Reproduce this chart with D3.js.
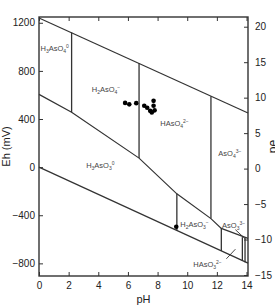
<!DOCTYPE html>
<html lang="en">
<head>
  <meta charset="UTF-8">
  <title>Eh-pH arsenic</title>
  <script src="https://d3js.org/d3.v7.min.js"></script>
  <style>
    body { margin: 0; background: #fff; }
    svg { display: block; font-family: "Liberation Sans", Arial, sans-serif; }
  </style>
</head>
<body>
<script>
  // axis ticks
  const phTicks = [0, 2, 4, 6, 8, 10, 12, 14];
  const ehTicks = [-800, -400, 0, 400, 800, 1200];
  const peTicks = [-15, -10, -5, 0, 5, 10, 15, 20];

  // stability boundaries, read as [pH, Eh mV]
  const upperWater = [[0, 1240], [14.1, 450]];
  const lowerWater = [[0, 0], [14.1, -798]];
  const asRedox = [[0, 605], [2.2, 457], [6.75, 75], [9.3, -222], [11.6, -428], [12.3, -509], [14.1, -592]];
  // vertical dividers: [pH, top Eh, bottom Eh]
  const dividers = [[2.2, 1120, 457], [6.75, 866, 75], [11.6, 590, -428], [9.3, -222, -527], [12.3, -509, -697], [13.72, -582, -780], [13.9, -588, -790]];
  // label pointers [[pH, Eh], [pH, Eh]]
  const pointers = [[[13.25, -520], [13.93, -598]], [[12.64, -762], [13.25, -682]]];

  // measured samples
  const samplePH = [5.81, 6.09, 6.56, 7.10, 7.30, 7.50, 7.73, 7.73, 7.80, 7.61, 9.26];
  const sampleEh = [534, 522, 532, 510, 493, 468, 551, 510, 472, 455, -496];

  // species labels: _ = subscript char, ^ = superscript rest
  const speciesText = ["H_3AsO_4^0", "H_2AsO_4^-", "HAsO_4^2-", "AsO_4^3-", "H_3AsO_3^0", "H_2AsO_3^-", "AsO_3^3-", "HAsO_3^2-"];
  const speciesPH = [0.1, 3.56, 8.18, 12.1, 3.18, 9.53, 12.35, 10.41];
  const speciesEh = [965, 626, 339, 90, -10, -500, -509, -829];

  const W = 275, H = 305;
  const L = 39, R = 248, T = 17, B = 276;

  const svg = d3.select("body").append("svg")
    .attr("width", W)
    .attr("height", H);

  const x = d3.scaleLinear().domain([0, 14.1]).range([L, R]);
  const y = d3.scaleLinear().domain([-905, 1248]).range([B, T]);
  const yPe = d3.scaleLinear().domain([-15.14, 21.37]).range([B, T]);

  const ink = "#333";

  // axes, ticks pointing inward
  function styleAxis(g) {
    g.select(".domain").remove();
    g.selectAll(".tick line").attr("stroke", ink).attr("stroke-width", 1);
    g.selectAll(".tick text").attr("fill", "#222").style("font-size", "10px");
  }

  svg.append("g")
    .attr("transform", `translate(0,${B})`)
    .call(d3.axisBottom(x).tickValues(phTicks).tickSize(-4).tickPadding(6).tickFormat(d3.format("d")))
    .call(styleAxis);

  svg.append("g")
    .attr("transform", `translate(0,${T})`)
    .call(d3.axisTop(x).tickValues(phTicks).tickSize(-4).tickFormat(""))
    .call(styleAxis);

  svg.append("g")
    .attr("transform", `translate(${L},0)`)
    .call(d3.axisLeft(y).tickValues(ehTicks).tickSize(-4).tickPadding(4).tickFormat(d3.format("d")))
    .call(styleAxis);

  svg.append("g")
    .attr("transform", `translate(${R},0)`)
    .call(d3.axisRight(yPe).tickValues(peTicks).tickSize(-4).tickPadding(7).tickFormat(d3.format("d")))
    .call(styleAxis);

  // frame
  svg.append("rect")
    .attr("x", L).attr("y", T)
    .attr("width", R - L).attr("height", B - T)
    .attr("fill", "none")
    .attr("stroke", ink)
    .attr("stroke-width", 1.4);

  // axis titles
  svg.append("text")
    .attr("x", (L + R) / 2).attr("y", 303)
    .attr("text-anchor", "middle")
    .attr("fill", "#222")
    .style("font-size", "11px")
    .text("pH");

  svg.append("text")
    .attr("transform", `translate(10,${(T + B) / 2}) rotate(-90)`)
    .attr("text-anchor", "middle")
    .attr("fill", "#222")
    .style("font-size", "11px")
    .text("Eh (mV)");

  svg.append("text")
    .attr("transform", `translate(277,${(T + B) / 2}) rotate(-90)`)
    .attr("text-anchor", "middle")
    .attr("fill", "#222")
    .style("font-size", "12px")
    .text("pe");

  // boundaries
  const line = d3.line().x(d => x(d[0])).y(d => y(d[1]));

  [upperWater, lowerWater, asRedox].forEach(pts => {
    svg.append("path")
      .attr("d", line(pts))
      .attr("fill", "none")
      .attr("stroke", ink)
      .attr("stroke-width", 1.2);
  });

  svg.selectAll("line.divider")
    .data(dividers)
    .join("line")
    .attr("class", "divider")
    .attr("x1", d => x(d[0])).attr("x2", d => x(d[0]))
    .attr("y1", d => y(d[1])).attr("y2", d => y(d[2]))
    .attr("stroke", ink)
    .attr("stroke-width", 1.3);

  svg.selectAll("line.pointer")
    .data(pointers)
    .join("line")
    .attr("class", "pointer")
    .attr("x1", d => x(d[0][0])).attr("y1", d => y(d[0][1]))
    .attr("x2", d => x(d[1][0])).attr("y2", d => y(d[1][1]))
    .attr("stroke", ink)
    .attr("stroke-width", 0.9);

  // samples
  svg.selectAll("circle.sample")
    .data(samplePH.map((p, i) => [p, sampleEh[i]]))
    .join("circle")
    .attr("class", "sample")
    .attr("cx", d => x(d[0]))
    .attr("cy", d => y(d[1]))
    .attr("r", 2.3)
    .attr("fill", "#000");

  // species names with sub/superscripts
  speciesText.forEach((s, i) => {
    const t = svg.append("text")
      .attr("x", x(speciesPH[i]))
      .attr("y", y(speciesEh[i]))
      .attr("fill", "#444")
      .style("font-size", "7.5px");
    let j = 0, shift = 0;
    while (j < s.length) {
      const c = s[j];
      if (c === "_") {
        t.append("tspan").attr("dy", 2 - shift).style("font-size", "5px").text(s[j + 1]);
        shift = 2; j += 2;
      } else if (c === "^") {
        t.append("tspan").attr("dy", -3 - shift).style("font-size", "5px").text(s.slice(j + 1).replace("-", "\u2212"));
        shift = -3; j = s.length;
      } else {
        let k = j;
        while (k < s.length && s[k] !== "_" && s[k] !== "^") k++;
        t.append("tspan").attr("dy", -shift).text(s.slice(j, k));
        shift = 0; j = k;
      }
    }
  });
</script>
</body>
</html>
